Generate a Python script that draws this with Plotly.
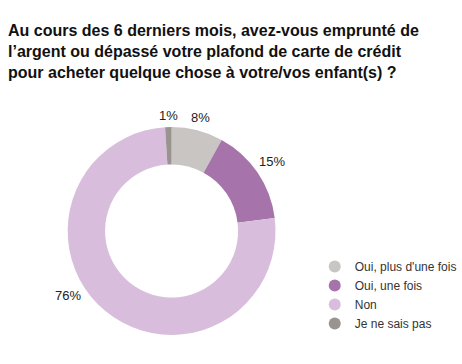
import math
import plotly.graph_objects as go

labels = ["Oui, plus d'une fois", "Oui, une fois", "Non", "Je ne sais pas"]
values = [8, 15, 76, 1]
colors = ["#c9c5c3", "#a673ab", "#d8bedc", "#9a9490"]
title_text = ("Au cours des 6 derniers mois, avez-vous emprunté de<br>"
              "l’argent ou dépassé votre plafond de carte de crédit<br>"
              "pour acheter quelque chose à votre/vos enfant(s) ?")

W, H = 462, 364
cx, cy, r = 175, 231, 106
FONT = "Liberation Sans, Arial, sans-serif"
# extra angular offset (degrees) for the large "Non" label, as in the original layout
label_angle_adjust = {"Non": 19}

fig = go.Figure()
fig.add_trace(go.Pie(
    labels=labels, values=values, sort=False, direction="clockwise",
    rotation=0, hole=0.64,
    marker=dict(colors=colors, line=dict(width=0)),
    textinfo="none", textposition="none",
    showlegend=False, hoverinfo="label+percent",
    domain=dict(x=[(cx - r) / W, (cx + r) / W], y=[(H - cy - r) / H, (H - cy + r) / H]),
))
for lab, col in zip(labels, colors):
    fig.add_trace(go.Scatter(x=[None], y=[None], mode="markers", name=lab,
                             marker=dict(symbol="circle", size=11, color=col)))

# percentage labels just outside each slice
total = sum(values)
cum = 0
for lab, v in zip(labels, values):
    mid = (cum + v / 2) / total * 2 * math.pi + math.radians(label_angle_adjust.get(lab, 0))
    cum += v
    dx, dy = math.sin(mid), -math.cos(mid)
    txt = f"{v}%"
    w = 7.3 * (len(txt) - 1) + 11.7
    h = 13
    d = r + 3 + abs(dx) * w / 2 + abs(dy) * h / 2
    px, py = cx + d * dx, cy + d * dy
    fig.add_annotation(x=px / W, y=1 - py / H, xref="paper", yref="paper",
                       text=txt, showarrow=False, xanchor="center", yanchor="middle",
                       font=dict(family=FONT, size=13, color="#222222"))

fig.update_layout(
    width=W, height=H, margin=dict(l=0, r=0, t=0, b=0),
    paper_bgcolor="white", plot_bgcolor="white",
    xaxis=dict(visible=False), yaxis=dict(visible=False),
    title=dict(text=title_text, x=8 / W, xanchor="left", y=1 - 36 / H, yanchor="top",
               font=dict(family=FONT, size=16, color="#111111", weight="bold")),
    legend=dict(x=321 / W, y=1 - 252 / H, xanchor="left", yanchor="top",
                font=dict(family=FONT, size=12, color="#333333"),
                itemsizing="constant", itemwidth=30, tracegroupgap=0,
                bgcolor="rgba(0,0,0,0)"),
)
fig.write_html("out.html", config={"displayModeBar": False},
               post_script="document.body.style.margin='0';")
